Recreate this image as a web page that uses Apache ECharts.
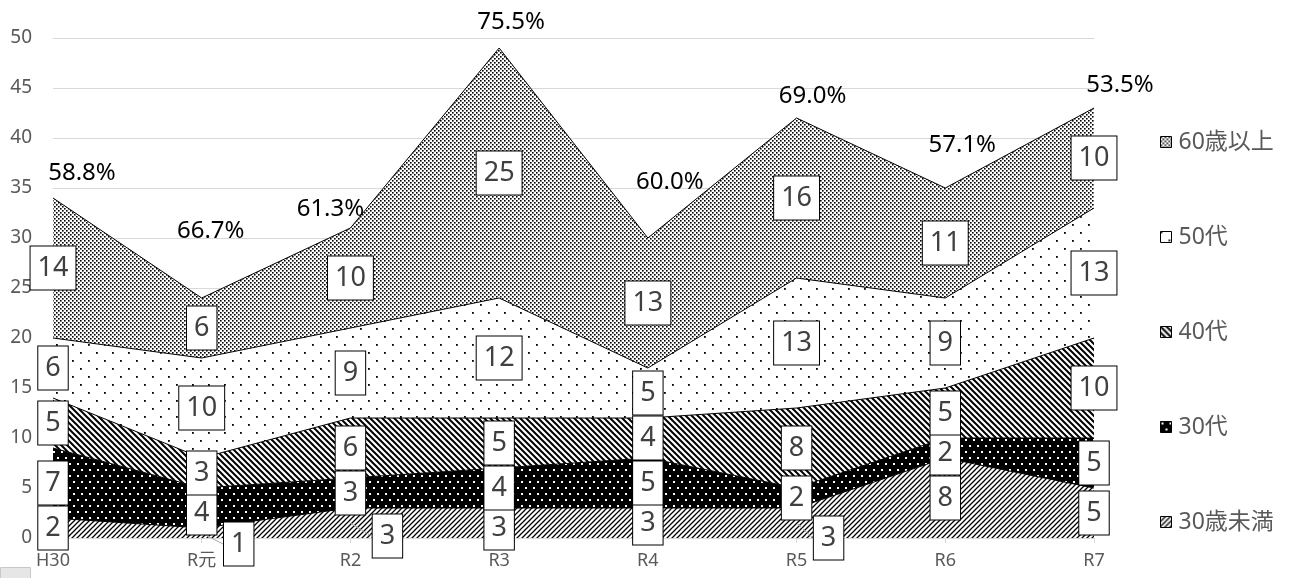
<!DOCTYPE html>
<html>
<head>
<meta charset="utf-8">
<script src="https://cdn.jsdelivr.net/npm/echarts@6/dist/echarts.min.js"></script>
<style>
  html, body { margin: 0; padding: 0; background: #fff; }
  #chart { width: 1299px; height: 578px; }
</style>
</head>
<body>
<div id="chart"></div>
<script>
// 年度
const categories = ['H30', 'R元', 'R2', 'R3', 'R4', 'R5', 'R6', 'R7'];
// 年代別の人数（下から積み上げ）
const under30 = [2, 1, 3, 3, 3, 3, 8, 5];
const age30s = [7, 4, 3, 4, 5, 2, 2, 5];
const age40s = [5, 3, 6, 5, 4, 8, 5, 10];
const age50s = [6, 10, 9, 12, 5, 13, 9, 13];
const over60 = [14, 6, 10, 25, 13, 16, 11, 10];
// 合計の上に出す割合
const ratios = [58.8, 66.7, 61.3, 75.5, 60.0, 69.0, 57.1, 53.5];
// y軸
const yMin = 0, yMax = 50, yStep = 5;

const bandNames = ['30歳未満', '30代', '40代', '50代', '60歳以上'];
const bands = [under30, age30s, age40s, age50s, over60];

// ラベルのずらし量（レイアウト用）
const ratioShift = [[29, -25], [9, -67], [-20, -19], [12, -26], [22, -56], [16, -22], [17, -43], [26, -23]];
const labelShift = { '0-1': [37, 11], '0-2': [37, 13], '0-5': [32, 15], '0-3': [0, 5], '1-1': [0, 5], '1-6': [0, 5] };

// 塗りつぶしパターン
function tile(w, h, bg, draw) {
  const c = document.createElement('canvas');
  c.width = w; c.height = h;
  const ctx = c.getContext('2d');
  ctx.fillStyle = bg;
  ctx.fillRect(0, 0, w, h);
  draw(ctx, w, h);
  return { image: c, repeat: 'repeat' };
}
function stripes(size, width, dir) {
  return tile(size, size, '#fff', (ctx, s) => {
    ctx.strokeStyle = '#000';
    ctx.lineWidth = width;
    ctx.beginPath();
    for (const k of [-s, 0, s]) {
      if (dir === 'down') { ctx.moveTo(k - 1, -1); ctx.lineTo(k + s + 1, s + 1); }
      else { ctx.moveTo(k - 1, s + 1); ctx.lineTo(k + s + 1, -1); }
    }
    ctx.stroke();
  });
}
const patterns = [
  stripes(5, 1.3, 'up'),
  tile(8, 12, '#000', ctx => {
    ctx.fillStyle = '#fff';
    ctx.fillRect(1, 1, 2, 2);
    ctx.fillRect(5, 7, 2, 2);
  }),
  stripes(6, 2, 'down'),
  tile(16, 16, '#fff', ctx => {
    ctx.fillStyle = '#000';
    ctx.fillRect(0, 0, 1.8, 1.8);
    ctx.fillRect(8, 8, 1.8, 1.8);
  }),
  tile(4, 4, '#fff', ctx => {
    ctx.fillStyle = '#000';
    ctx.fillRect(0, 0, 1.6, 1.6);
    ctx.fillRect(2, 2, 1.6, 1.6);
  })
];

const chart = echarts.init(document.getElementById('chart'));

const areaSeries = bands.map((vals, b) => ({
  name: bandNames[b],
  type: 'line',
  stack: 'total',
  data: vals,
  symbol: 'none',
  lineStyle: { color: '#000', width: 1 },
  areaStyle: { color: patterns[b], opacity: 1 },
  z: 2
}));

// 各帯の中央に数値ラベル
const labelSeries = bands.map((vals, b) => {
  const data = vals.map((v, i) => {
    let below = 0;
    for (let k = 0; k < b; k++) below += bands[k][i];
    return [i, below + v / 2, v];
  });
  return {
    name: 'lbl' + b,
    type: 'scatter',
    data: data,
    symbolSize: 1,
    itemStyle: { color: 'rgba(0,0,0,0)', opacity: 1 },
    z: 5,
    label: {
      show: true,
      position: 'inside',
      formatter: p => p.value[2],
      fontFamily: 'Noto Sans',
      fontSize: 27,
      lineHeight: 27,
      color: '#404040',
      opacity: 1,
      backgroundColor: '#fff',
      borderColor: '#000',
      borderWidth: 1,
      padding: [8, 7]
    },
    labelLine: b === 0 ? { show: true, lineStyle: { color: '#a6a6a6', width: 1, opacity: 1 } } : undefined,
    labelLayout: p => {
      const s = labelShift[b + '-' + p.dataIndex];
      return s ? { dx: s[0], dy: s[1] } : {};
    }
  };
});

const totals = categories.map((c, i) => bands.reduce((sum, arr) => sum + arr[i], 0));
const ratioSeries = {
  name: 'ratio',
  type: 'scatter',
  data: totals.map((t, i) => [i, t]),
  symbolSize: 1,
  itemStyle: { color: 'rgba(0,0,0,0)', opacity: 1 },
  z: 6,
  label: {
    show: true,
    position: 'inside',
    formatter: p => ratios[p.dataIndex].toFixed(1) + '%',
    fontFamily: 'Noto Sans',
    fontSize: 24,
    color: '#000',
    opacity: 1
  },
  labelLayout: p => ({ dx: ratioShift[p.dataIndex][0], dy: ratioShift[p.dataIndex][1] })
};

chart.setOption({
  animation: false,
  grid: { left: 53, right: 205, top: 38, bottom: 40 },
  legend: {
    orient: 'vertical',
    left: 1155,
    top: 124,
    icon: 'rect',
    itemWidth: 11,
    itemHeight: 11,
    itemGap: 69,
    selectedMode: false,
    textStyle: {
      fontFamily: "'Noto Sans', 'Noto Sans CJK JP'",
      fontSize: 23,
      lineHeight: 26,
      color: '#595959',
      padding: [0, 0, 0, 2]
    },
    data: bandNames.map((n, b) => ({
      name: n,
      itemStyle: { color: patterns[b], borderColor: '#000', borderWidth: 1 }
    })).reverse()
  },
  xAxis: {
    type: 'category',
    data: categories,
    boundaryGap: false,
    axisLine: { lineStyle: { color: '#d9d9d9', width: 1 } },
    axisTick: { show: true, length: 5, lineStyle: { color: '#d9d9d9' } },
    axisLabel: {
      fontFamily: "'Noto Sans', 'Noto Sans CJK JP'",
      fontSize: 18,
      color: '#595959',
      margin: 14
    }
  },
  yAxis: {
    type: 'value',
    min: yMin,
    max: yMax,
    interval: yStep,
    axisLine: { show: false },
    axisTick: { show: false },
    splitLine: { lineStyle: { color: '#d9d9d9', width: 1 } },
    axisLabel: {
      fontFamily: 'Noto Sans',
      fontSize: 19,
      color: '#595959',
      margin: 21
    }
  },
  graphic: [{
    type: 'rect',
    left: 0,
    top: 567,
    shape: { width: 30, height: 11 },
    style: { fill: '#e6e6e6', stroke: '#c8c8c8' }
  }],
  series: [...areaSeries, ...labelSeries, ratioSeries]
});
</script>
</body>
</html>
